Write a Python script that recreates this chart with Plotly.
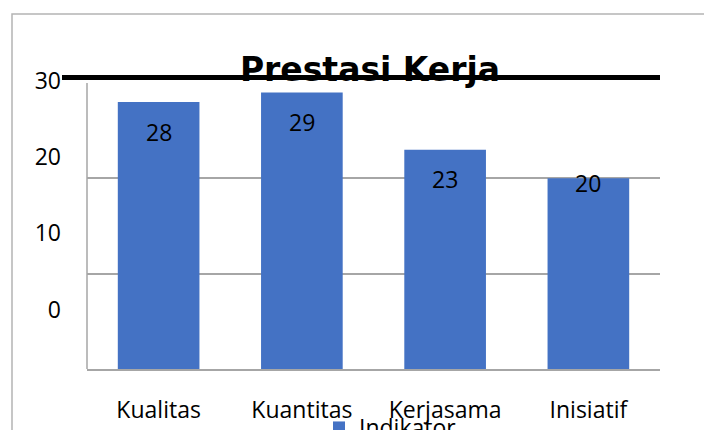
import plotly.graph_objects as go

categories = ["Kualitas", "Kuantitas", "Kerjasama", "Inisiatif"]
values = [28, 29, 23, 20]
series_name = "Indikator..."
title_text = "Prestasi Kerja"
ytick_vals = [0, 10, 20, 30]
ytick_text = ["0", "10", "20", "30"]
label_yshift = [-29.5, -29.5, -29.5, -5]

FONT = "Open Sans"
TITLE_FONT = "DejaVu Sans"
BLUE = "#4472C4"

fig = go.Figure()
fig.add_trace(go.Bar(
    x=categories, y=values, name=series_name,
    marker=dict(color=BLUE, line=dict(width=0)),
    width=0.57, showlegend=True,
))
# invisible trace to carry the misaligned tick-label axis
fig.add_trace(go.Scatter(x=[categories[0]], y=[0], yaxis="y2", mode="markers",
                         marker=dict(opacity=0), showlegend=False, hoverinfo="skip"))

for c, v, dy in zip(categories, values, label_yshift):
    fig.add_annotation(x=c, y=v, xref="x", yref="y", text=str(v), showarrow=False,
                       yshift=dy, font=dict(family=FONT, size=23, color="#000000"))

fig.update_layout(
    width=704, height=430,
    margin=dict(l=87, r=44, t=73, b=61, autoexpand=False),
    paper_bgcolor="white", plot_bgcolor="white",
    font=dict(family=FONT, size=23, color="#000000"),
    title=dict(text="<b>" + title_text + "</b>", x=370/704, xanchor="center", xref="container",
               y=1 - 69/430, yanchor="middle", yref="container",
               font=dict(family=TITLE_FONT, size=33, color="#000000")),
    xaxis=dict(range=[-0.5, 3.5], showline=True, linecolor="#a6a6a6", linewidth=1.5,
               ticks="", showgrid=False, ticklabelstandoff=20,
               tickfont=dict(family=FONT, size=23, color="#000000")),
    yaxis=dict(range=[0, 31.05], tickvals=[10, 20], showticklabels=False,
               showgrid=True, gridcolor="#a6a6a6", gridwidth=1.5, zeroline=False,
               showline=False),
    yaxis2=dict(overlaying="y", side="left", range=[-7.795, 30.98],
                tickvals=ytick_vals, ticktext=ytick_text, showgrid=False, zeroline=False,
                showline=False, ticks="", ticklabelstandoff=25,
                tickfont=dict(family=FONT, size=23, color="#000000")),
    legend=dict(x=(319-87)/573, xanchor="left", y=(369-406)/296, yanchor="top",
                orientation="h", bgcolor="rgba(0,0,0,0)",
                font=dict(family=FONT, size=23, color="#000000")),
    shapes=[
        # left axis line
        dict(type="line", xref="paper", yref="y", x0=0, x1=0, y0=0, y1=30,
             line=dict(color="#a6a6a6", width=1.5)),
        # heavy black line near the top
        dict(type="line", xref="paper", yref="paper", x0=(62-87)/573, x1=1.0,
             y0=(369-77.5)/296, y1=(369-77.5)/296, line=dict(color="#000000", width=5)),
        # outer chart border
        dict(type="rect", xref="paper", yref="paper", x0=(12-87)/573, x1=2.0,
             y0=-2.0, y1=(369-14)/296, line=dict(color="#b4b4b4", width=1.5),
             fillcolor="rgba(0,0,0,0)", layer="below"),
    ],
)

fig.write_html("out.html", post_script="document.body.style.margin='0px';",
               config={"displayModeBar": False})
